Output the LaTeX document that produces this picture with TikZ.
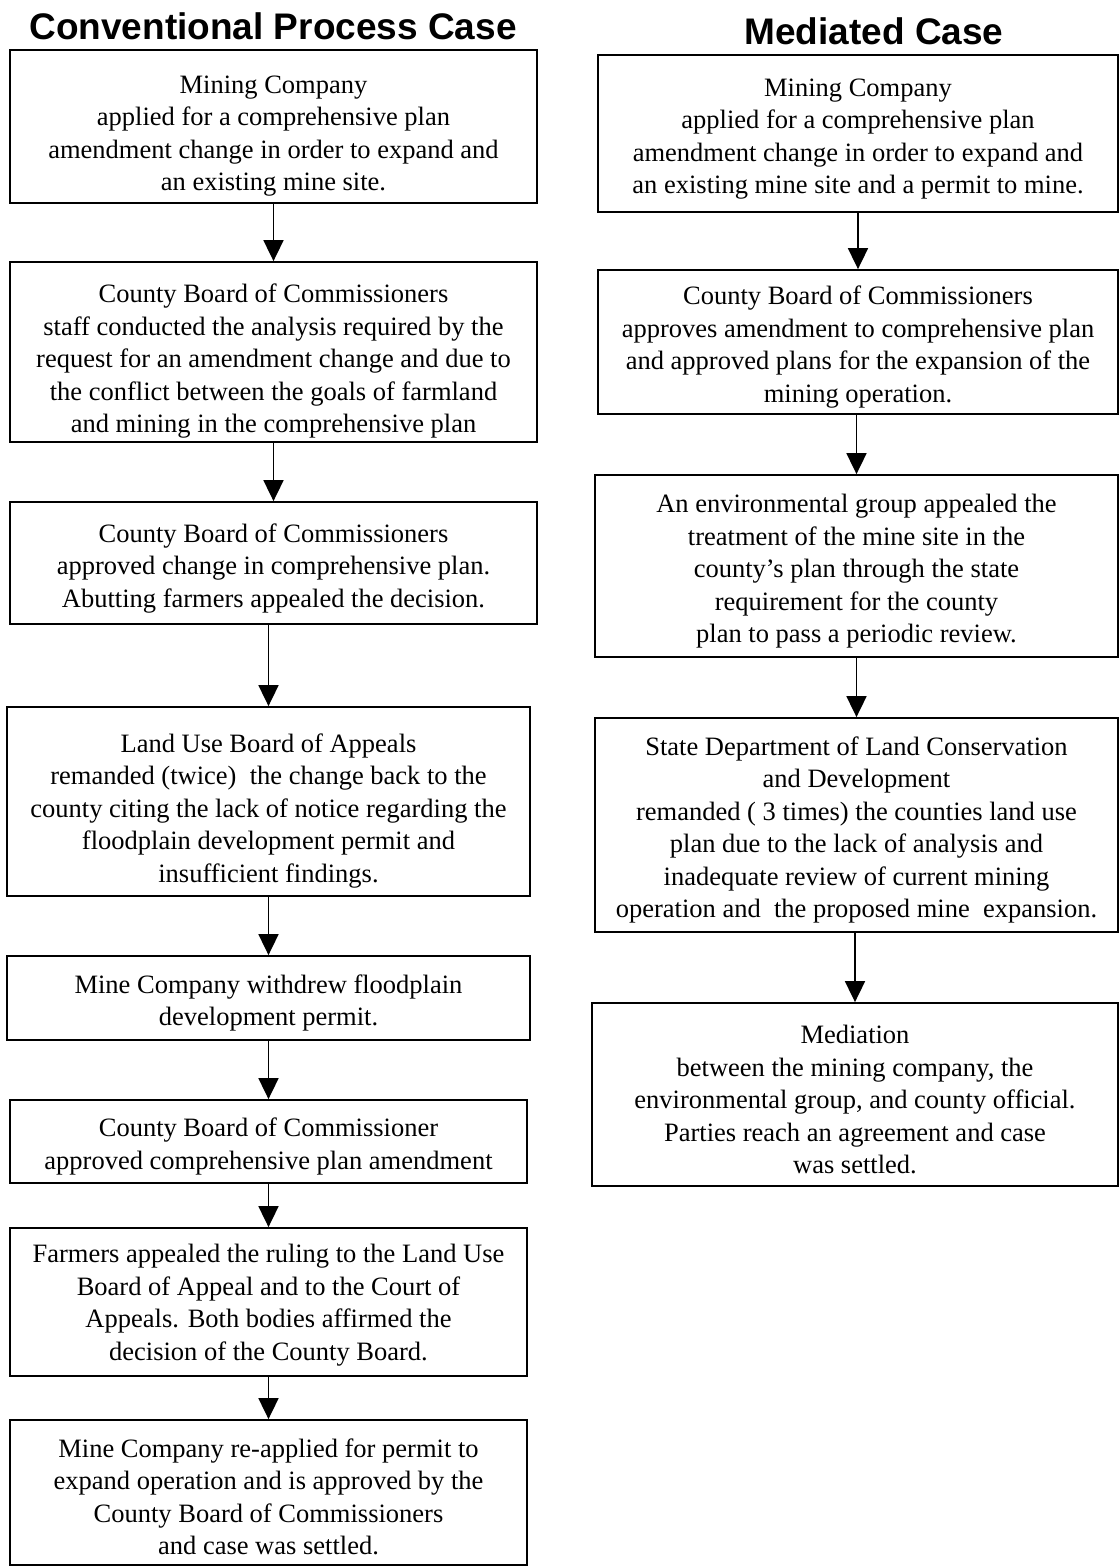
\documentclass[tikz,border=0pt]{standalone}
\usepackage{fontspec}
\setmainfont{Liberation Serif}
\newfontfamily\titlefont{Liberation Sans}
\usetikzlibrary{arrows.meta}
\newcommand\F[1][29]{\rule{0pt}{#1pt}}
\tikzset{
  box/.style={draw=black, line width=1.8pt, rectangle, align=center, inner sep=0pt,
    font=\fontsize{26.5}{32.5}\selectfont},
  flow/.style={draw=black, line width=1.8pt, -{Triangle[width=20pt,length=21pt]}},
  heading/.style={font=\titlefont\bfseries\fontsize{37}{40}\selectfont, inner sep=0pt}
}
\begin{document}
\begin{tikzpicture}[x=1pt,y=-1pt]
\useasboundingbox (0,0) rectangle (1119,1567);
% titles
\node[heading] (tl) at (273,26) {Conventional Process Case};
\node[heading] (tr) at (874,31) {Mediated Case};
% left column
\node[box, minimum width=527pt, minimum height=153pt] (L1) at (273.5,126.5)
 {\F[37]Mining Company\\ applied for a comprehensive plan\\ amendment change in order to expand and\\ an existing mine site.};
\node[box, minimum width=527pt, minimum height=180pt] (L2) at (273.5,352)
 {\F[37]County Board of Commissioners\\ staff conducted the analysis required by the\\ request for an amendment change and due to\\ the conflict between the goals of farmland\\ and mining in the comprehensive plan};
\node[box, minimum width=527pt, minimum height=122pt] (L3) at (273.5,563)
 {\F County Board of Commissioners\\ approved change in comprehensive plan.\\ Abutting farmers appealed the decision.};
\node[box, minimum width=523pt, minimum height=189pt] (L4) at (268.5,801.5)
 {\F[37]Land Use Board of Appeals\\ remanded (twice)~ the change back to the\\ county citing the lack of notice regarding the\\ floodplain development permit and\\ insufficient findings.};
\node[box, minimum width=523pt, minimum height=84pt] (L5) at (268.5,998)
 {\F Mine Company withdrew floodplain\\ development permit.};
\node[box, minimum width=517pt, minimum height=83pt] (L6) at (268.5,1141.5)
 {\F County Board of Commissioner\\ approved comprehensive plan amendment};
\node[box, minimum width=517pt, minimum height=148pt] (L7) at (268.5,1302)
 {\F[25]Farmers appealed the ruling to the Land Use\\ Board of Appeal and to the Court of\\ Appeals. Both bodies affirmed the\\ decision of the County Board.};
\node[box, minimum width=517pt, minimum height=145pt] (L8) at (268.5,1492.5)
 {\F[27]Mine Company re-applied for permit to\\ expand operation and is approved by the\\ County Board of Commissioners\\ and case was settled.};
% right column
\node[box, minimum width=520pt, minimum height=157pt] (R1) at (858,133.5)
 {\F Mining Company\\ applied for a comprehensive plan\\ amendment change in order to expand and\\ an existing mine site and a permit to mine.};
\node[box, minimum width=520pt, minimum height=144pt] (R2) at (858,342)
 {\F County Board of Commissioners\\ approves amendment to comprehensive plan\\ and approved plans for the expansion of the\\ mining operation.};
\node[box, minimum width=523pt, minimum height=182pt] (R3) at (856.5,566)
 {\F An environmental group appealed the\\ treatment of the mine site in the\\ county’s plan through the state\\ requirement for the county\\ plan to pass a periodic review.};
\node[box, minimum width=523pt, minimum height=214pt] (R4) at (856.5,825)
 {\F State Department of Land Conservation\\ and Development\\ remanded ( 3 times) the counties land use\\ plan due to the lack of analysis and\\ inadequate review of current mining\\ operation and~ the proposed mine~ expansion.};
\node[box, minimum width=526pt, minimum height=183pt] (R5) at (855,1094.5)
 {\F Mediation\\ between the mining company, the\\ environmental group, and county official.\\ Parties reach an agreement and case\\ was settled.};
% connectors
\foreach \a/\b in {L1/L2,L2/L3,L3/L4,L4/L5,L5/L6,L6/L7,L7/L8,R1/R2,R2/R3,R3/R4,R4/R5}
  \draw[flow] (\a.south -| \b.north) -- (\b.north);
\end{tikzpicture}
\end{document}
